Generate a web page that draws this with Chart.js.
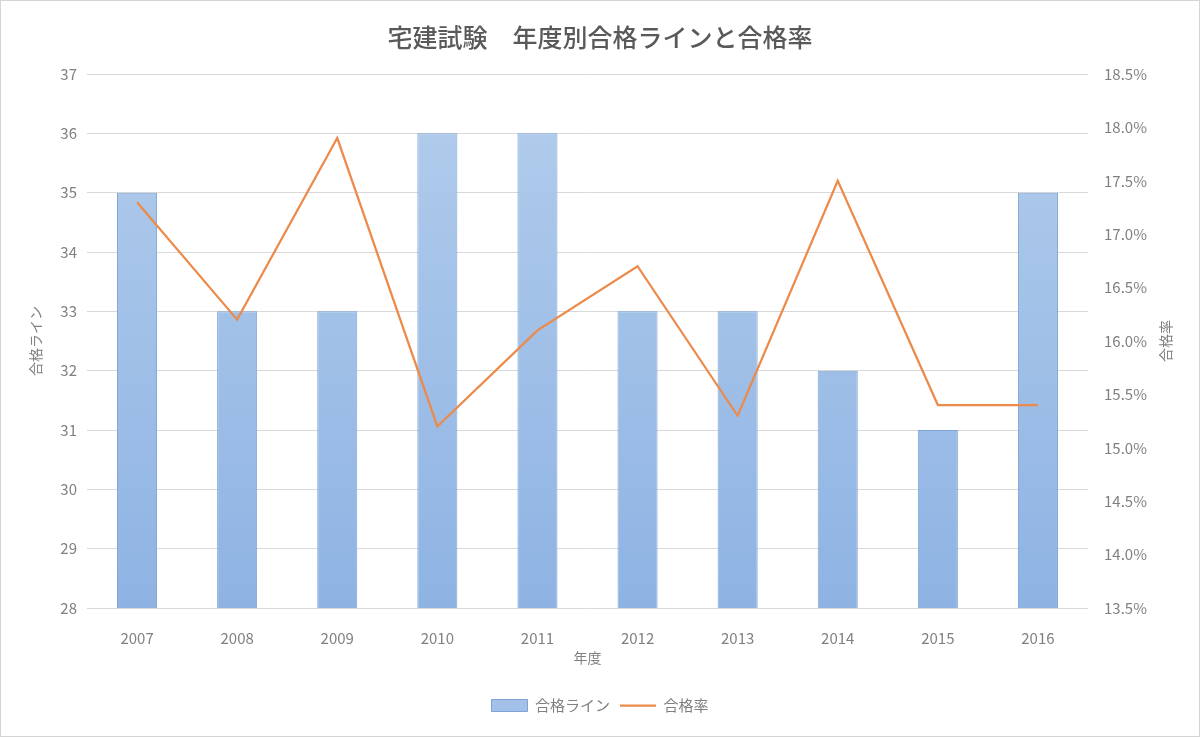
<!DOCTYPE html>
<html>
<head>
<meta charset="utf-8">
<script src="https://cdn.jsdelivr.net/npm/chart.js@4.4.1/dist/chart.umd.min.js"></script>
<style>
  html, body { margin: 0; padding: 0; background: #fff; }
  #wrap { width: 1200px; height: 737px; }
</style>
</head>
<body>
<div id="wrap"><canvas id="chart" width="1200" height="737"></canvas></div>
<script>
const FONT = "'Noto Sans CJK JP', 'Noto Sans', sans-serif";
const TEXT_GREY = '#808080';

// data
const years = ['2007', '2008', '2009', '2010', '2011', '2012', '2013', '2014', '2015', '2016'];
const passLine = [35, 33, 33, 36, 36, 33, 33, 32, 31, 35];
const passRate = [17.3, 16.2, 17.9, 15.2, 16.1, 16.7, 15.3, 17.5, 15.4, 15.4];

// white background, outer frame and the right-hand axis title (reads bottom to top)
const frame = {
  id: 'frame',
  beforeDraw(chart) {
    const ctx = chart.ctx;
    ctx.save();
    ctx.fillStyle = '#fff';
    ctx.fillRect(0, 0, chart.width, chart.height);
    ctx.strokeStyle = '#d4d4d4';
    ctx.lineWidth = 1;
    ctx.strokeRect(0.5, 0.5, chart.width - 1, chart.height - 1);
    ctx.restore();
  },
  afterDraw(chart) {
    const ctx = chart.ctx;
    const area = chart.chartArea;
    ctx.save();
    ctx.translate(1166, (area.top + area.bottom) / 2);
    ctx.rotate(-Math.PI / 2);
    ctx.fillStyle = TEXT_GREY;
    ctx.font = '14px ' + FONT;
    ctx.textAlign = 'center';
    ctx.textBaseline = 'middle';
    ctx.fillText('合格率', 0, 0);
    ctx.restore();
  }
};

function barGradient(context) {
  const area = context.chart.chartArea;
  if (!area) return '#a3c1e8';
  const g = context.chart.ctx.createLinearGradient(0, area.top, 0, area.bottom);
  g.addColorStop(0, '#b3cdec');
  g.addColorStop(1, '#8eb3e3');
  return g;
}

new Chart(document.getElementById('chart'), {
  data: {
    labels: years,
    datasets: [
      {
        type: 'line',
        label: '合格率',
        data: passRate,
        yAxisID: 'y1',
        borderColor: '#ec8a4a',
        backgroundColor: '#ec8a4a',
        borderWidth: 2.25,
        pointRadius: 0,
        tension: 0,
        order: 0
      },
      {
        type: 'bar',
        label: '合格ライン',
        data: passLine,
        yAxisID: 'y',
        backgroundColor: barGradient,
        borderColor: '#7ea3d4',
        borderWidth: 1,
        barPercentage: 0.8,
        categoryPercentage: 0.5,
        order: 1
      }
    ]
  },
  options: {
    responsive: false,
    animation: false,
    layout: { padding: { left: 0, right: 0, top: 0, bottom: 14 } },
    plugins: {
      title: {
        display: true,
        text: '宅建試験\u3000年度別合格ラインと合格率',
        color: '#595959',
        font: { family: FONT, size: 25, weight: '500' },
        padding: { top: 22, bottom: 22 }
      },
      legend: {
        position: 'bottom',
        reverse: true,
        labels: {
          color: TEXT_GREY,
          font: { family: FONT, size: 15 },
          usePointStyle: true,
          pointStyleWidth: 36,
          boxHeight: 12,
          padding: 10,
          generateLabels(chart) {
            return chart.data.datasets.map((ds, i) => ({
              text: ds.label,
              datasetIndex: i,
              fillStyle: ds.type === 'bar' ? '#a3c1e8' : ds.borderColor,
              strokeStyle: ds.type === 'bar' ? '#7ea3d4' : ds.borderColor,
              lineWidth: ds.type === 'bar' ? 1 : 2.25,
              pointStyle: ds.type === 'bar' ? 'rect' : 'line',
              fontColor: TEXT_GREY,
              hidden: false
            }));
          }
        }
      },
      tooltip: { enabled: false }
    },
    scales: {
      x: {
        grid: { display: false },
        border: { display: false },
        ticks: { color: TEXT_GREY, font: { family: FONT, size: 15 }, padding: 13 },
        title: {
          display: true,
          text: '年度',
          color: TEXT_GREY,
          font: { family: FONT, size: 14 },
          padding: { top: 4, bottom: 22 }
        },
        afterFit(scale) { scale.height = 80; }
      },
      y: {
        position: 'left',
        min: 28,
        max: 37,
        ticks: { stepSize: 1, color: TEXT_GREY, font: { family: FONT, size: 15 }, padding: 10 },
        grid: { color: '#d9d9d9', drawTicks: false },
        border: { display: false },
        title: {
          display: true,
          text: '合格ライン',
          color: TEXT_GREY,
          font: { family: FONT, size: 14 },
          padding: { top: 27, bottom: 0 }
        },
        afterFit(scale) { scale.width = 87; }
      },
      y1: {
        position: 'right',
        min: 13.5,
        max: 18.5,
        ticks: {
          stepSize: 0.5,
          color: TEXT_GREY,
          font: { family: FONT, size: 15 },
          padding: 16,
          callback: v => v.toFixed(1) + '%'
        },
        grid: { display: false, drawTicks: false },
        border: { display: false },
        afterFit(scale) { scale.width = 112; }
      }
    }
  },
  plugins: [frame]
});
</script>
</body>
</html>
